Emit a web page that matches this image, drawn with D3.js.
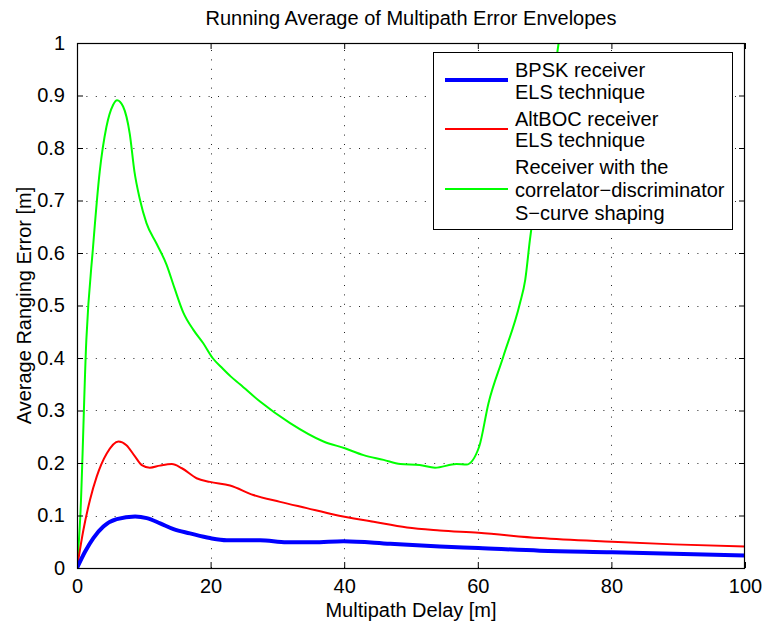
<!DOCTYPE html>
<html>
<head>
<meta charset="utf-8">
<script src="https://cdn.jsdelivr.net/npm/d3@7"></script>
<style>
  html, body { margin: 0; padding: 0; background: #fff; }
  svg { display: block; }
  text { font-family: "Liberation Sans", Arial, Helvetica, sans-serif; fill: #000; }
</style>
</head>
<body>
<svg id="chart" width="766" height="626"></svg>
<script>
// Multipath delay [m] and running-average ranging error [m] for each receiver
const blueX = [0, 1.2, 2.45, 3.95, 5.95, 8.7, 10.45, 12.45, 14.45, 16.9, 19.9, 22.4, 27.4, 31.4, 35.4, 39.9, 46.9, 54.3, 60.1, 69.3, 80.1, 89.3, 100];
const blueY = [0, 0.031, 0.057, 0.079, 0.093, 0.098, 0.095, 0.085, 0.074, 0.066, 0.057, 0.053, 0.053, 0.049, 0.049, 0.051, 0.046, 0.041, 0.038, 0.033, 0.030, 0.027, 0.024];

const redX = [0, 0.95, 1.95, 2.95, 4.45, 6.2, 7.4, 8.7, 9.7, 10.9, 12.4, 14.2, 15.7, 17.9, 19.9, 22.9, 26.4, 30.4, 34.4, 38.4, 44.4, 49.4, 54.3, 60.1, 69.3, 80.1, 89.3, 100];
const redY = [0, 0.072, 0.13, 0.174, 0.218, 0.241, 0.234, 0.212, 0.196, 0.191, 0.195, 0.198, 0.19, 0.171, 0.164, 0.157, 0.139, 0.126, 0.114, 0.102, 0.088, 0.077, 0.0715, 0.067, 0.057, 0.050, 0.045, 0.041];

const greenX = [0, 0.5, 1.4, 2.4, 3.4, 4.4, 5.4, 6.0, 6.9, 7.9, 8.6, 9.4, 10.4, 11.9, 13.4, 14.6, 15.9, 17.4, 18.9, 20.3, 21.8, 23.0, 24.4, 27.4, 31.9, 36.9, 40.1, 42.9, 45.9, 48.4, 51.3, 53.6, 56.8, 58.3, 60.2, 61.6, 63.8, 66.3, 67.1, 67.8, 70.0, 72.1, 73.5];
const greenY = [0, 0.10, 0.435, 0.611, 0.755, 0.84, 0.882, 0.891, 0.879, 0.827, 0.755, 0.703, 0.657, 0.618, 0.578, 0.533, 0.487, 0.454, 0.428, 0.40, 0.38, 0.365, 0.35, 0.317, 0.276, 0.241, 0.228, 0.215, 0.206, 0.198, 0.196, 0.191, 0.198, 0.197, 0.231, 0.314, 0.402, 0.504, 0.549, 0.625, 0.81, 1.0, 1.12];

const xTicks = [0, 20, 40, 60, 80, 100];
const yTicks = [0, 0.1, 0.2, 0.3, 0.4, 0.5, 0.6, 0.7, 0.8, 0.9, 1];
const yTickLabels = ["0", "0.1", "0.2", "0.3", "0.4", "0.5", "0.6", "0.7", "0.8", "0.9", "1"];

const titleText = "Running Average of Multipath Error Envelopes";
const xLabelText = "Multipath Delay [m]";
const yLabelText = "Average Ranging Error [m]";

const legendLabels = [
  ["BPSK receiver", "ELS technique"],
  ["AltBOC receiver", "ELS technique"],
  ["Receiver with the", "correlator\u2212discriminator", "S\u2212curve shaping"]
];
const seriesColors = ["#0000ff", "#ff0000", "#00ff00"];
const seriesWidths = [4, 2, 2];

// Layout
const W = 766, H = 626;
const plot = { left: 77, right: 745, top: 43, bottom: 568 };
const FONT = 20;

const svg = d3.select("#chart");
const x = d3.scaleLinear().domain([0, 100]).range([plot.left, plot.right]);
const y = d3.scaleLinear().domain([0, 1]).range([plot.bottom, plot.top]);

svg.append("rect").attr("width", W).attr("height", H).attr("fill", "#fff");

svg.append("defs").append("clipPath").attr("id", "plotClip")
  .append("rect")
  .attr("x", plot.left).attr("y", plot.top)
  .attr("width", plot.right - plot.left).attr("height", plot.bottom - plot.top);

// Dotted grid
const grid = svg.append("g").attr("stroke", "#222").attr("stroke-width", 1)
  .attr("stroke-dasharray", "1 8.4");
xTicks.filter(t => t > 0 && t < 100).forEach(t => {
  grid.append("line").attr("x1", Math.round(x(t)) + 0.5).attr("x2", Math.round(x(t)) + 0.5)
    .attr("y1", plot.bottom).attr("y2", plot.top);
});
yTicks.filter(t => t > 0 && t < 1).forEach(t => {
  grid.append("line").attr("y1", Math.round(y(t)) + 0.5).attr("y2", Math.round(y(t)) + 0.5)
    .attr("x1", plot.left).attr("x2", plot.right);
});

// Series
const series = [
  { xs: blueX, ys: blueY },
  { xs: redX, ys: redY },
  { xs: greenX, ys: greenY }
];
const line = d3.line().x(d => x(d[0])).y(d => y(d[1])).curve(d3.curveMonotoneX);
const lines = svg.append("g").attr("clip-path", "url(#plotClip)");
// draw green first, blue on top of red
[2, 1, 0].forEach(i => {
  const s = series[i];
  lines.append("path")
    .datum(s.xs.map((v, k) => [v, s.ys[k]]))
    .attr("d", line)
    .attr("fill", "none")
    .attr("stroke", seriesColors[i])
    .attr("stroke-width", seriesWidths[i])
    .attr("stroke-linejoin", "round")
    .attr("stroke-linecap", "round");
});

// Axes: bottom/left with labels, top/right mirrored ticks (all inward)
const tickLen = 6;
const xAxis = d3.axisBottom(x).tickValues(xTicks).tickSize(-tickLen).tickPadding(tickLen + 5);
const yAxis = d3.axisLeft(y).tickValues(yTicks).tickSize(-tickLen).tickPadding(tickLen + 6)
  .tickFormat((d, i) => yTickLabels[i]);

const gx = svg.append("g").attr("transform", `translate(0,${plot.bottom})`).call(xAxis);
const gy = svg.append("g").attr("transform", `translate(${plot.left},0)`).call(yAxis);
svg.append("g").attr("transform", `translate(0,${plot.top})`)
  .call(d3.axisTop(x).tickValues(xTicks).tickSize(-tickLen).tickFormat(""));
svg.append("g").attr("transform", `translate(${plot.right},0)`)
  .call(d3.axisRight(y).tickValues(yTicks).tickSize(-tickLen).tickFormat(""));

svg.selectAll(".domain").remove();
svg.selectAll(".tick line").attr("stroke", "#000").attr("stroke-width", 1);
svg.selectAll(".tick text").attr("font-size", FONT).attr("font-family", null).attr("fill", "#000");
gx.selectAll(".tick text").attr("dy", "0.71em");

// Box
svg.append("rect")
  .attr("x", plot.left + 0.5).attr("y", plot.top + 0.5)
  .attr("width", plot.right - plot.left - 1).attr("height", plot.bottom - plot.top)
  .attr("fill", "none").attr("stroke", "#000").attr("stroke-width", 1.2);

// Title and axis labels
svg.append("text").attr("x", (plot.left + plot.right) / 2).attr("y", 25)
  .attr("text-anchor", "middle").attr("font-size", FONT).text(titleText);
svg.append("text").attr("x", (plot.left + plot.right) / 2).attr("y", 617)
  .attr("text-anchor", "middle").attr("font-size", FONT).text(xLabelText);
svg.append("text")
  .attr("transform", `translate(31,${(plot.top + plot.bottom) / 2}) rotate(-90)`)
  .attr("text-anchor", "middle").attr("font-size", FONT).text(yLabelText);

// Legend
const legend = { x: 433, y: 52, w: 299, h: 177 };
const lg = svg.append("g");
lg.append("rect")
  .attr("x", legend.x + 0.5).attr("y", legend.y + 0.5)
  .attr("width", legend.w).attr("height", legend.h)
  .attr("fill", "#fff").attr("stroke", "#000").attr("stroke-width", 1);

const lineBaselines = [[77, 99], [126, 147], [174, 197, 220]];
const swatchY = [80, 129, 189];
legendLabels.forEach((rows, i) => {
  lg.append("line")
    .attr("x1", 445).attr("x2", 508)
    .attr("y1", swatchY[i]).attr("y2", swatchY[i])
    .attr("stroke", seriesColors[i]).attr("stroke-width", seriesWidths[i]);
  rows.forEach((r, k) => {
    lg.append("text").attr("x", 515).attr("y", lineBaselines[i][k])
      .attr("font-size", FONT).text(r);
  });
});
</script>
</body>
</html>
